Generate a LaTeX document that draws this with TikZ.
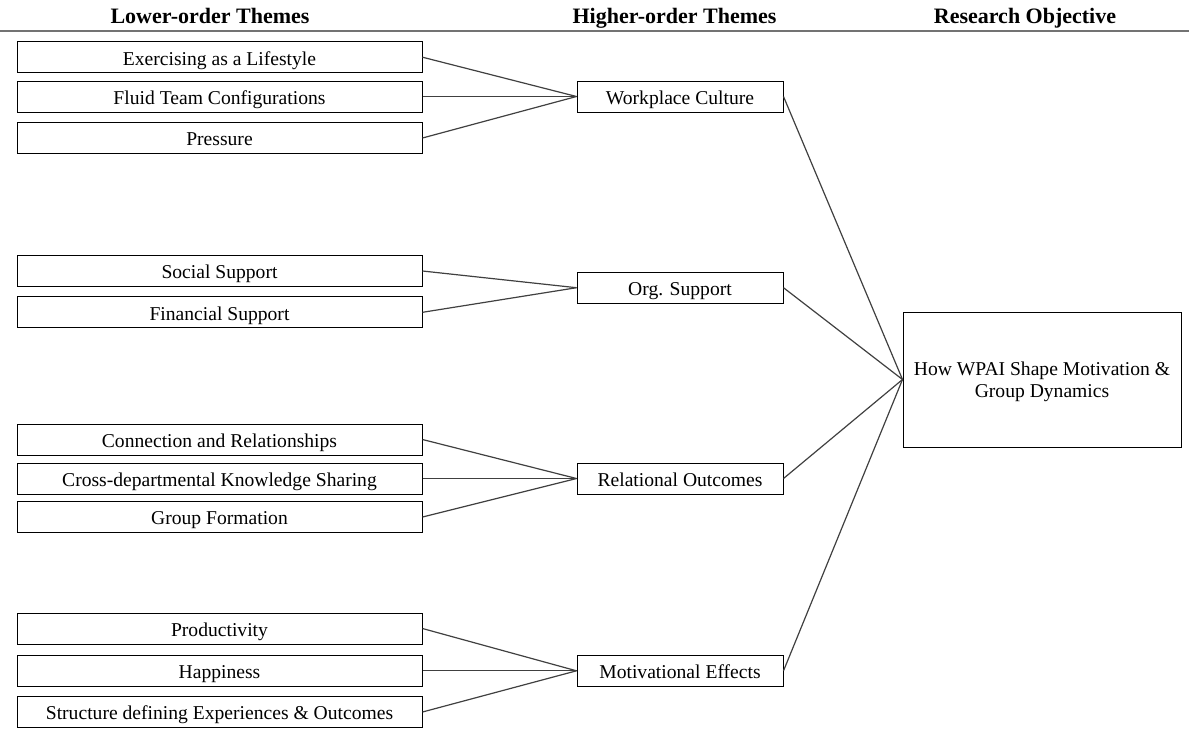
\documentclass[tikz,border=0pt]{standalone}
\usepackage{fontspec}
\setmainfont{Liberation Serif}
\begin{document}
\begin{tikzpicture}[x=1pt,y=-1pt,
  every node/.style={font=\fontsize{19.6}{24}\selectfont, inner sep=0pt},
  head/.style={font=\fontsize{22}{26}\selectfont\bfseries, anchor=base},
  lbox/.style={draw=black, line width=1pt, minimum width=405pt, minimum height=31pt, text height=15.6pt, text depth=0pt},
  hbox/.style={draw=black, line width=1pt, minimum width=206pt, minimum height=31pt, text height=15.6pt, text depth=0pt},
  obox/.style={draw=black, line width=1pt, minimum width=278pt, minimum height=135pt, align=center,
    font=\fontsize{19.6}{21.5}\selectfont, text height=35.4pt, text depth=0pt},
  conn/.style={draw=black!75, line width=1.2pt}]
\useasboundingbox (0,0) rectangle (1189,729);
% headers
\node[head] (h1) at (210,23) {Lower-order Themes};
\node[head] (h2) at (674.5,23) {Higher-order Themes};
\node[head] (h3) at (1025,23) {Research Objective};
\coordinate (rl) at (0,31);
\coordinate (rr) at (1189,31);
\draw[draw=black!55, line width=2pt] (rl) -- (rr);
% lower-order
\node[lbox] (a1) at (219.5,57.2) {Exercising as a Lifestyle};
\node[lbox] (a2) at (219.5,96.5) {Fluid Team Configurations};
\node[lbox] (a3) at (219.5,138.0) {Pressure};
\node[lbox] (b1) at (219.5,271.0) {Social Support};
\node[lbox] (b2) at (219.5,312.3) {Financial Support};
\node[lbox] (c1) at (219.5,439.5) {Connection and Relationships};
\node[lbox] (c2) at (219.5,478.5) {Cross-departmental Knowledge Sharing};
\node[lbox] (c3) at (219.5,517.0) {Group Formation};
\node[lbox] (d1) at (219.5,628.5) {Productivity};
\node[lbox] (d2) at (219.5,670.8) {Happiness};
\node[lbox] (d3) at (219.5,712.0) {Structure defining Experiences \& Outcomes};
% higher-order
\node[hbox] (wc) at (680,96.5) {Workplace Culture};
\node[hbox] (os) at (680,287.7) {Org. Support};
\node[hbox] (ro) at (680,478.5) {Relational Outcomes};
\node[hbox] (me) at (680,670.8) {Motivational Effects};
% objective
\node[obox] (obj) at (1042,379.5) {How WPAI Shape Motivation \&\\Group Dynamics};
% connectors
\draw[conn] (a1.east) -- (wc.west);
\draw[conn] (a2.east) -- (wc.west);
\draw[conn] (a3.east) -- (wc.west);
\draw[conn] (b1.east) -- (os.west);
\draw[conn] (b2.east) -- (os.west);
\draw[conn] (c1.east) -- (ro.west);
\draw[conn] (c2.east) -- (ro.west);
\draw[conn] (c3.east) -- (ro.west);
\draw[conn] (d1.east) -- (me.west);
\draw[conn] (d2.east) -- (me.west);
\draw[conn] (d3.east) -- (me.west);
\draw[conn] (wc.east) -- (obj.west);
\draw[conn] (os.east) -- (obj.west);
\draw[conn] (ro.east) -- (obj.west);
\draw[conn] (me.east) -- (obj.west);
\end{tikzpicture}
\end{document}
